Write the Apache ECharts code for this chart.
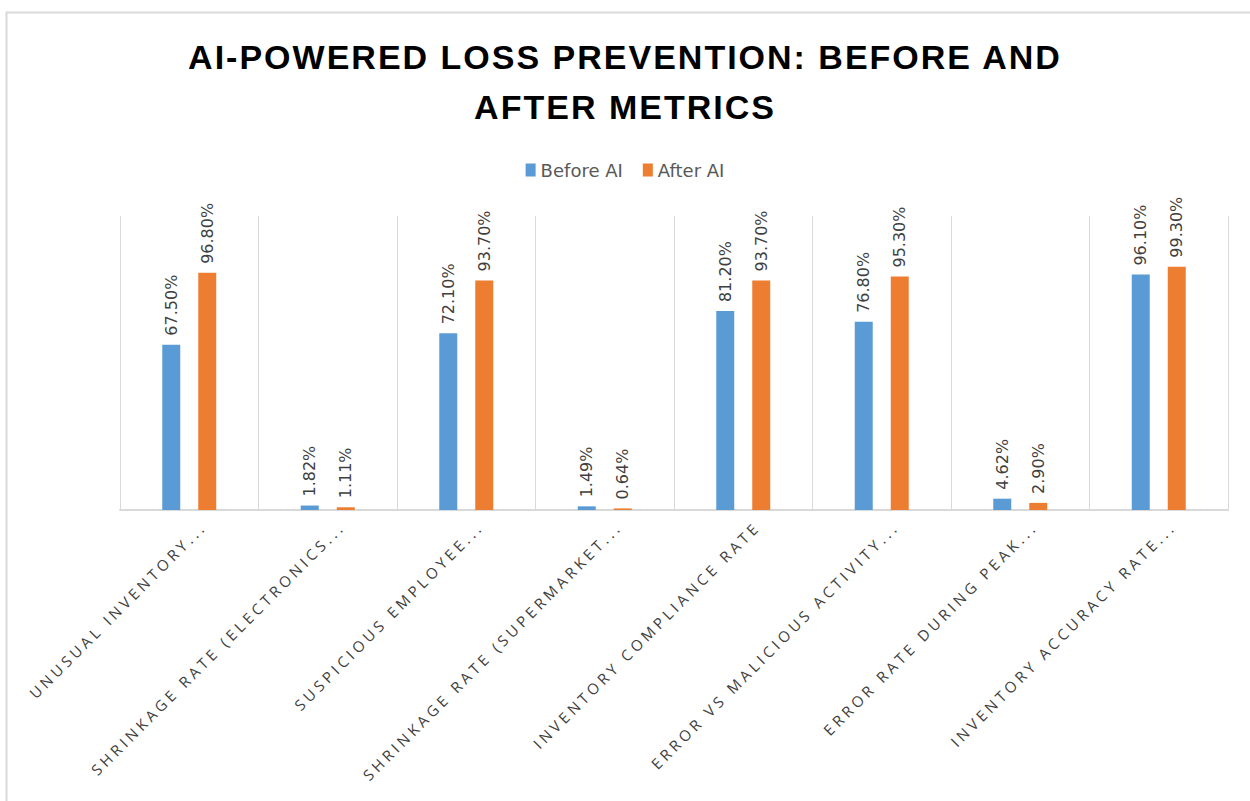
<!DOCTYPE html>
<html>
<head>
<meta charset="utf-8">
<script src="https://cdn.jsdelivr.net/npm/echarts@6/dist/echarts.min.js"></script>
<style>
  html, body { margin: 0; padding: 0; background: #fff; }
  #chart { width: 1250px; height: 801px; }
  /* spaced-out lettering like the original: axis labels and title */
  #chart text[style*="Open Sans"], #chart text[font-family*="Open Sans"] { letter-spacing: 3.8px; }
  #chart text[style*="Liberation Sans"], #chart text[font-family*="Liberation Sans"] { letter-spacing: 2px; }
</style>
</head>
<body>
<div id="chart"></div>
<script>
// categories as shown (truncated like the original)
const categories = [
  'UNUSUAL INVENTORY...',
  'SHRINKAGE RATE (ELECTRONICS...',
  'SUSPICIOUS EMPLOYEE...',
  'SHRINKAGE RATE (SUPERMARKET...',
  'INVENTORY COMPLIANCE RATE',
  'ERROR VS MALICIOUS ACTIVITY...',
  'ERROR RATE DURING PEAK...',
  'INVENTORY ACCURACY RATE...'
]
const beforeAI = [67.5, 1.82, 72.1, 1.49, 81.2, 76.8, 4.62, 96.1]
const afterAI = [96.8, 1.11, 93.7, 0.64, 93.7, 95.3, 2.9, 99.3]

const labelStyle = {
  show: true,
  position: 'top',
  rotate: 90,
  align: 'left',
  verticalAlign: 'middle',
  distance: 9,
  fontFamily: 'DejaVu Sans',
  fontSize: 16,
  color: '#404040',
  formatter: p => p.value.toFixed(2) + '%'
}

const chart = echarts.init(document.getElementById('chart'), null, { renderer: 'svg' })
const option = {
  backgroundColor: '#fff',
  graphic: [{
    type: 'rect',
    shape: { x: 6.5, y: 12.5, width: 1260, height: 800 },
    style: { fill: 'none', stroke: '#d9d9d9', lineWidth: 2 },
    silent: true
  }],
  title: {
    text: 'AI-POWERED LOSS PREVENTION: BEFORE AND\nAFTER METRICS',
    left: 'center',
    top: 27,
    textStyle: {
      fontFamily: 'Liberation Sans',
      fontWeight: 'bold',
      fontSize: 34,
      lineHeight: 50,
      color: '#000'
    }
  },
  legend: {
    top: 156,
    left: 'center',
    itemWidth: 10,
    itemHeight: 13,
    itemGap: 20,
    icon: 'rect',
    textStyle: { fontFamily: 'DejaVu Sans', fontSize: 18, color: '#595959' },
    data: ['Before AI', 'After AI']
  },
  grid: { left: 120, right: 22, top: 216, bottom: 291 },
  xAxis: {
    type: 'category',
    data: categories,
    axisLine: { lineStyle: { color: '#d9d9d9', width: 2 } },
    axisTick: { show: false },
    splitLine: { show: true, lineStyle: { color: '#d9d9d9', width: 1 } },
    axisLabel: {
      rotate: 45,
      interval: 0,
      margin: 28,
      padding: [0, -20, 0, 0],
      fontFamily: 'Open Sans',
      fontSize: 15,
      color: '#404040'
    }
  },
  yAxis: {
    type: 'value',
    min: 0,
    max: 120,
    show: false,
    splitLine: { show: false }
  },
  series: [{
    name: 'Before AI',
    type: 'bar',
    data: beforeAI,
    barWidth: 18,
    barGap: '100%',
    itemStyle: { color: '#5B9BD5' },
    label: labelStyle
  }, {
    name: 'After AI',
    type: 'bar',
    data: afterAI,
    barWidth: 18,
    itemStyle: { color: '#ED7D31' },
    label: labelStyle
  }]
}
chart.setOption(option)
</script>
</body>
</html>
